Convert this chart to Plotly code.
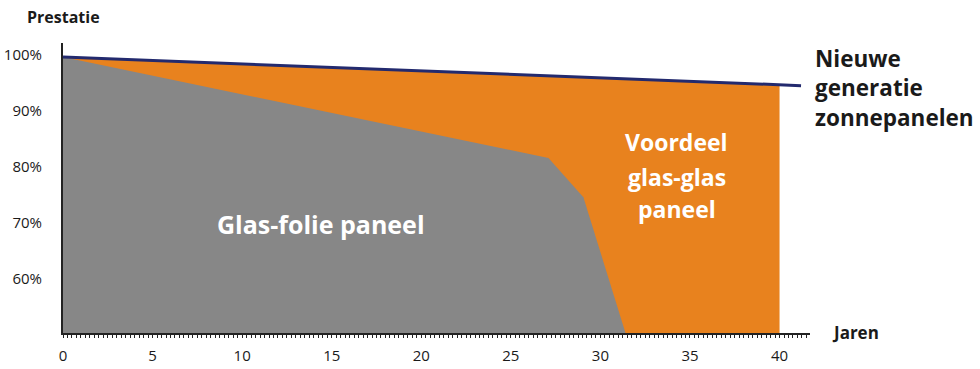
import plotly.graph_objects as go

# Data
new_gen_years = [0, 41.2]
new_gen_perf = [99.6, 94.5]

glasglas_years = [0, 40]
glasglas_perf = [99.6, 94.65]

glasfolie_years = [0, 27.1, 29.05, 31.4]
glasfolie_perf = [99.6, 81.6, 74.6, 50.4]

x_tickvals = [0, 5, 10, 15, 20, 25, 30, 35, 40]
y_tickvals = [60, 70, 80, 90, 100]
y_ticktext = ["60%", "70%", "80%", "90%", "100%"]

ORANGE = "#E8821E"
GRAY = "#878787"
NAVY = "#232A6E"
TXT = "#1a1a1a"
FONT = "Open Sans"

fig = go.Figure()
fig.add_trace(go.Scatter(x=glasglas_years, y=glasglas_perf, mode="lines",
                         fill="tozeroy", fillcolor=ORANGE,
                         line=dict(width=0, color=ORANGE), hoverinfo="skip"))
fig.add_trace(go.Scatter(x=glasfolie_years, y=glasfolie_perf, mode="lines",
                         fill="tozeroy", fillcolor=GRAY,
                         line=dict(width=0, color=GRAY), hoverinfo="skip"))
fig.add_trace(go.Scatter(x=new_gen_years, y=new_gen_perf, mode="lines",
                         line=dict(width=3, color=NAVY), hoverinfo="skip"))

fig.update_layout(
    width=980, height=369,
    margin=dict(l=63, r=170, t=43, b=36, autoexpand=False),
    paper_bgcolor="white", plot_bgcolor="white",
    showlegend=False,
    font=dict(family=FONT, color=TXT),
    xaxis=dict(range=[0, 41.7], tickvals=x_tickvals, ticktext=[str(v) for v in x_tickvals],
               automargin=False,
               showgrid=False, zeroline=False, showline=True, linecolor="#222", linewidth=2,
               ticks="outside", ticklen=3, tickwidth=1, tickcolor="#222",
               minor=dict(dtick=0.25, tick0=0, ticks="outside", ticklen=3, tickwidth=1, tickcolor="#222"),
               tickfont=dict(size=15, color=TXT, family=FONT), ticklabelstandoff=5),
    yaxis=dict(range=[50.4, 102.1], tickvals=y_tickvals, ticktext=y_ticktext,
               automargin=False,
               showgrid=False, zeroline=False, showline=True, linecolor="#222", linewidth=2,
               ticks="", tickfont=dict(size=15, color=TXT, family=FONT), ticklabelstandoff=16),
)

ann = []
ann.append(dict(text="<b>Prestatie</b>", xref="paper", yref="paper", x=-0.0509, y=1.0897,
                xanchor="left", yanchor="middle", showarrow=False, font=dict(size=16, color=TXT)))
ann.append(dict(text="<b>Jaren</b>", xref="paper", yref="paper", x=1.0268, y=0.0034,
                xanchor="left", yanchor="middle", showarrow=False, font=dict(size=17, color=TXT)))
ann.append(dict(text="<b>Nieuwe<br>generatie<br>zonnepanelen</b>", xref="paper", yref="paper",
                x=1.004, y=0.8448, xanchor="left", yanchor="middle", align="left",
                showarrow=False, font=dict(size=22.5, color=TXT)))
ann.append(dict(text="<b>Glas-folie paneel</b>", xref="x", yref="y", x=14.4, y=69.8,
                xanchor="center", yanchor="middle", showarrow=False, font=dict(size=25, color="white")))
for txt, yy in [("Voordeel", 84.5), ("glas-glas", 78.3), ("paneel", 72.5)]:
    ann.append(dict(text="<b>" + txt + "</b>", xref="x", yref="y", x=34.25, y=yy,
                    xanchor="center", yanchor="middle", showarrow=False, font=dict(size=23, color="white")))
fig.update_layout(annotations=ann)

fig.write_html("out.html")
